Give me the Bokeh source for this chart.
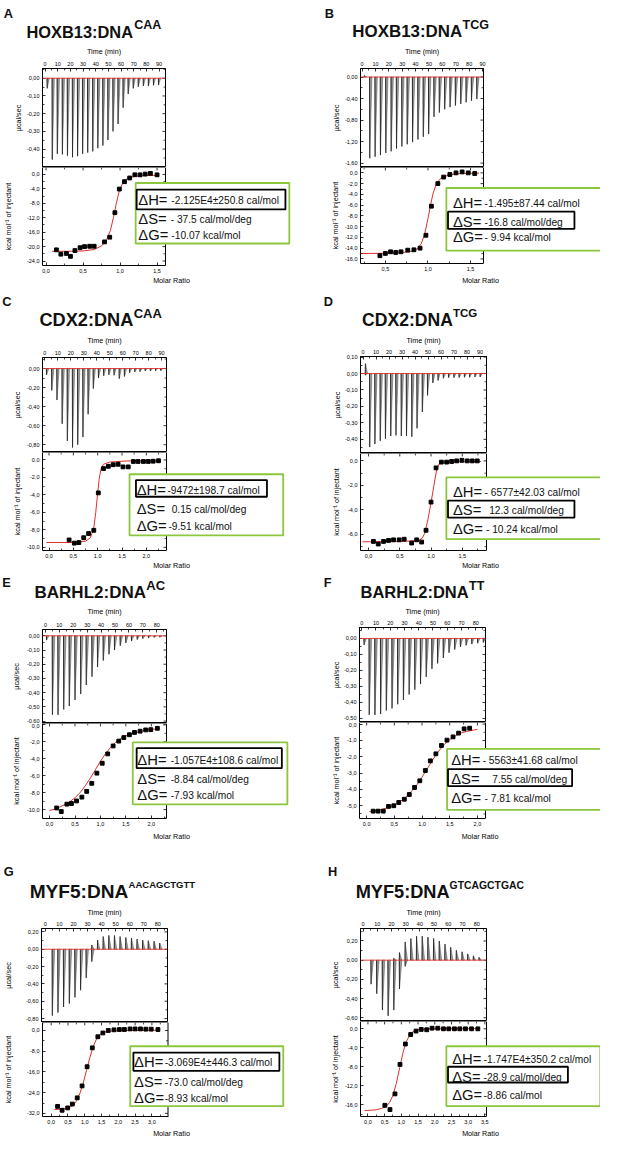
from bokeh.plotting import figure
from bokeh.models import (Range1d, LinearAxis, FixedTicker, Label, BoxAnnotation,
                          Span, ColumnDataSource)
from bokeh.layouts import column, row
from bokeh.embed import file_html
from bokeh.resources import INLINE

# ======================= DATA =======================
TIME_TICKS_90 = [0, 10, 20, 30, 40, 50, 60, 70, 80, 90]
TIME_TICKS_80 = [0, 10, 20, 30, 40, 50, 60, 70, 80]

# ---- A : HOXB13:DNA CAA
A_title, A_sup = "HOXB13:DNA", "CAA"
A_inj_time = [1.5, 5.5, 9.5, 13.5, 17.5, 21.5, 25.5, 29.5, 33.5, 37.5, 41.5, 45.5,
              49.5, 53.5, 57.5, 61.5, 65.5, 69.5, 73.5, 77.5, 81.5, 85.5, 89.5]
A_inj_down = [-0.057, -0.459, -0.427, -0.43, -0.437, -0.446, -0.44, -0.427, -0.42, -0.413,
              -0.395, -0.38, -0.349, -0.30, -0.258, -0.166, -0.089, -0.057, -0.048, -0.044,
              -0.044, -0.04, -0.038]
A_ratio = [0.14, 0.20, 0.275, 0.33, 0.39, 0.46, 0.52, 0.59, 0.65, 0.79, 0.86, 0.93, 0.99,
           1.06, 1.13, 1.20, 1.27, 1.34, 1.41, 1.50]
A_heat = [-20.9, -22.1, -21.9, -22.7, -21.1, -20.3, -20.0, -19.9, -19.9, -18.7, -17.4, -10.6,
          -4.05, -2.0, -0.98, -0.09, -0.1, 0.1, 0.3, -0.1]
A_fit_x = [0.08, 0.3, 0.5, 0.65, 0.75, 0.82, 0.87, 0.91, 0.95, 0.99, 1.04, 1.10, 1.20, 1.35, 1.52]
A_fit_y = [-21.3, -21.3, -21.2, -20.8, -19.8, -18.0, -15.5, -12.0, -8.0, -4.5, -2.2, -1.1, -0.5, -0.3, -0.25]
A_raw_yticks = [0, -0.1, -0.2, -0.3, -0.4]
A_int_xticks = [0, 0.5, 1.0, 1.5]
A_int_yticks = [0, -4, -8, -12, -16, -20, -24]
A_dH, A_dS, A_dG = "-2.125E4±250.8 cal/mol", "- 37.5 cal/mol/deg", "-10.07 kcal/mol"

# ---- B : HOXB13:DNA TCG
B_title, B_sup = "HOXB13:DNA", "TCG"
B_inj_time = [1.6, 5.6, 9.6, 13.6, 17.6, 21.6, 25.6, 29.6, 33.6, 37.6, 41.6, 45.6, 49.6,
              53.6, 57.6, 61.6, 65.6, 69.6, 73.6, 77.6, 81.6, 85.6]
B_inj_down = [0, -1.51, -1.48, -1.45, -1.41, -1.38, -1.33, -1.29, -1.25, -1.21, -1.16, -1.11,
              -1.06, -0.74, -0.66, -0.60, -0.56, -0.53, -0.50, -0.47, -0.44, -0.41]
B_inj_up = [0.03, 0, 0, 0, 0, 0, 0, 0, 0, 0, 0, 0, 0, 0, 0, 0, 0, 0, 0, 0, 0, 0]
B_ratio = [0.436, 0.50, 0.561, 0.622, 0.683, 0.763, 0.835, 0.907, 0.976, 1.04, 1.116, 1.184,
           1.257, 1.329, 1.401, 1.473, 1.549]
B_heat = [-15.4, -14.98, -14.67, -14.8, -14.67, -14.37, -14.3, -14.0, -11.6, -6.2, -1.99,
          -0.78, -0.3, 0.0, 0.18, 0.0, -0.12]
B_fit_x = [0.21, 0.5, 0.7, 0.8, 0.87, 0.92, 0.96, 1.0, 1.03, 1.06, 1.10, 1.15, 1.25, 1.40, 1.60]
B_fit_y = [-15.0, -14.95, -14.8, -14.6, -14.2, -13.2, -11.5, -8.5, -6.0, -3.8, -2.0, -1.0, -0.35, -0.1, -0.05]
B_raw_yticks = [0, -0.4, -0.8, -1.2, -1.6]
B_int_xticks = [0.5, 1.0, 1.5]
B_int_yticks = [0, -2, -4, -6, -8, -10, -12, -14, -16]
B_dH, B_dS, B_dG = "-1.495±87.44 cal/mol", "-16.8 cal/mol/deg", "- 9.94 kcal/mol"

# ---- C : CDX2:DNA CAA
C_title, C_sup = "CDX2:DNA", "CAA"
C_inj_time = [1.2, 5.2, 9.2, 13.2, 17.2, 21.2, 25.2, 29.2, 33.2, 37.2, 41.2, 45.2, 49.2,
              53.2, 57.2, 61.2, 65.2, 69.2, 73.2, 77.2, 81.2, 85.2, 89.2]
C_inj_down = [-0.066, -0.23, -0.33, -0.58, -0.76, -0.83, -0.80, -0.72, -0.48, -0.21, -0.10,
              -0.076, -0.066, -0.07, -0.106, -0.083, -0.043, -0.036, -0.033, -0.026, -0.026,
              -0.023, -0.023]
C_ratio = [0.413, 0.52, 0.613, 0.713, 0.813, 0.92, 1.013, 1.12, 1.22, 1.32, 1.42, 1.52, 1.627,
           1.733, 1.83, 1.94, 2.04, 2.14, 2.25]
C_heat = [-9.15, -9.52, -9.45, -8.9, -8.42, -8.05, -3.77, -0.99, -0.73, -0.55, -0.5, -0.8,
          -0.8, -0.18, -0.18, -0.18, -0.18, -0.15, -0.1]
C_fit_x = [-0.05, 0.5, 0.75, 0.85, 0.92, 0.96, 1.0, 1.03, 1.07, 1.12, 1.25, 1.6, 2.3]
C_fit_y = [-9.45, -9.44, -9.3, -8.9, -7.8, -6.0, -3.8, -2.2, -1.0, -0.5, -0.25, -0.12, -0.1]
C_raw_yticks = [0, -0.2, -0.4, -0.6, -0.8]
C_int_xticks = [0, 0.5, 1.0, 1.5, 2.0]
C_int_yticks = [0, -2, -4, -6, -8, -10]
C_dH, C_dS, C_dG = "-9472±198.7 cal/mol", "0.15 cal/mol/deg", "-9.51 kcal/mol"

# ---- D : CDX2:DNA TCG
D_title, D_sup = "CDX2:DNA", "TCG"
D_inj_time = [1.7, 5.0, 9.0, 13.1, 17.1, 21.2, 25.2, 29.3, 33.3, 37.4, 41.4, 45.5, 49.5,
              53.6, 57.6, 61.7, 65.7, 69.8, 73.8, 77.9, 81.9, 86.0, 90.0]
D_inj_down = [-0.01, -0.447, -0.428, -0.409, -0.396, -0.38, -0.376, -0.38, -0.38, -0.384,
              -0.333, -0.234, -0.133, -0.057, -0.042, -0.029, -0.025, -0.025, -0.025, -0.023,
              -0.023, -0.021, -0.021]
D_inj_up = [0.06, 0, 0, 0, 0, 0, 0, 0, 0, 0, 0, 0, 0, 0, 0, 0, 0, 0, 0, 0, 0, 0, 0]
D_ratio = [0.078, 0.155, 0.24, 0.32, 0.40, 0.49, 0.57, 0.69, 0.77, 0.85, 0.92, 1.0, 1.08,
           1.165, 1.25, 1.33, 1.41, 1.495, 1.58, 1.66, 1.74]
D_heat = [-6.57, -6.78, -6.57, -6.49, -6.44, -6.44, -6.39, -6.7, -6.44, -6.62, -5.66, -3.36,
          -0.57, -0.1, -0.1, -0.05, 0.0, 0.05, 0.0, 0.0, 0.0]
D_fit_x = [-0.1, 0.5, 0.8, 0.86, 0.9, 0.95, 1.0, 1.05, 1.09, 1.13, 1.2, 1.8]
D_fit_y = [-6.6, -6.58, -6.5, -6.3, -5.9, -4.8, -3.4, -1.9, -0.7, -0.25, -0.1, -0.05]
D_raw_yticks = [0.1, 0, -0.1, -0.2, -0.3, -0.4]
D_int_xticks = [0, 0.5, 1.0, 1.5]
D_int_yticks = [0, -2, -4, -6]
D_dH, D_dS, D_dG = "- 6577±42.03 cal/mol", "12.3 cal/mol/deg", "- 10.24 kcal/mol"

# ---- E : BARHL2:DNA AC
E_title, E_sup = "BARHL2:DNA", "AC"
E_inj_time = [0.7, 4.9, 8.9, 13.0, 17.0, 21.1, 25.2, 29.2, 33.3, 37.3, 41.4, 45.5, 49.5,
              53.6, 57.6, 61.7, 65.8, 69.8, 73.9, 77.9, 82.0]
E_inj_down = [-0.03, -0.556, -0.556, -0.518, -0.494, -0.452, -0.41, -0.346, -0.287, -0.22,
              -0.174, -0.13, -0.10, -0.07, -0.05, -0.037, -0.026, -0.02, -0.015, -0.011, -0.01]
E_ratio = [0.14, 0.23, 0.34, 0.43, 0.53, 0.635, 0.73, 0.83, 0.93, 1.035, 1.143, 1.25, 1.36,
           1.46, 1.57, 1.67, 1.78, 1.89, 1.99, 2.12]
E_heat = [-9.81, -10.23, -9.36, -9.28, -8.98, -8.53, -7.85, -6.9, -5.7, -4.53, -3.43, -2.49,
          -1.92, -1.5, -1.17, -0.9, -0.75, -0.6, -0.57, -0.41]
E_fit_x = [0.0, 0.1, 0.2, 0.3, 0.4, 0.5, 0.6, 0.7, 0.8, 0.9, 1.0, 1.1, 1.2, 1.3, 1.4, 1.5,
           1.6, 1.8, 2.0, 2.15]
E_fit_y = [-10.1, -9.95, -9.7, -9.4, -9.05, -8.6, -8.0, -7.2, -6.3, -5.3, -4.3, -3.4, -2.65,
           -2.05, -1.6, -1.3, -1.05, -0.75, -0.55, -0.45]
E_raw_yticks = [0, -0.1, -0.2, -0.3, -0.4, -0.5, -0.6]
E_int_xticks = [0, 0.5, 1.0, 1.5, 2.0]
E_int_yticks = [0, -2, -4, -6, -8, -10]
E_dH, E_dS, E_dG = "-1.057E4±108.6 cal/mol", "-8.84 cal/mol/deg", "-7.93 kcal/mol"

# ---- F : BARHL2:DNA TT
F_title, F_sup = "BARHL2:DNA", "TT"
F_inj_time = [1.5, 5.1, 9.1, 13.1, 17.1, 21.1, 25.1, 29.1, 33.1, 37.1, 41.1, 45.1, 49.1,
              53.1, 57.1, 61.1, 65.1, 69.1, 73.1, 77.1, 81.2, 85.2]
F_inj_down = [-0.04, -0.476, -0.478, -0.472, -0.45, -0.437, -0.411, -0.384, -0.35, -0.32,
              -0.285, -0.24, -0.19, -0.156, -0.122, -0.089, -0.069, -0.053, -0.043, -0.035,
              -0.03, -0.025]
F_ratio = [0.118, 0.206, 0.30, 0.395, 0.49, 0.58, 0.68, 0.77, 0.865, 0.96, 1.06, 1.15, 1.25,
           1.35, 1.45, 1.56, 1.66, 1.76, 1.86]
F_heat = [-5.33, -5.33, -5.33, -5.04, -5.0, -4.8, -4.6, -4.31, -3.88, -3.47, -2.84, -2.25,
          -1.82, -1.31, -0.98, -0.78, -0.55, -0.29, -0.25]
F_fit_x = [0.05, 0.2, 0.35, 0.5, 0.6, 0.7, 0.8, 0.9, 1.0, 1.1, 1.2, 1.3, 1.4, 1.5, 1.6, 1.7,
           1.8, 1.95, 2.0]
F_fit_y = [-5.35, -5.3, -5.15, -4.95, -4.75, -4.5, -4.15, -3.75, -3.25, -2.7, -2.15, -1.65,
           -1.25, -0.95, -0.72, -0.55, -0.45, -0.35, -0.32]
F_raw_yticks = [0, -0.1, -0.2, -0.3, -0.4, -0.5]
F_int_xticks = [0, 0.5, 1.0, 1.5, 2.0]
F_int_yticks = [0, -1, -2, -3, -4, -5]
F_dH, F_dS, F_dG = "- 5563±41.68 cal/mol", "7.55 cal/mol/deg", "- 7.81 kcal/mol"

# ---- G : MYF5:DNA AACAGCTGTT
G_title, G_sup = "MYF5:DNA", "AACAGCTGTT"
G_inj_time = [4.8, 8.8, 12.8, 16.9, 20.9, 24.9, 28.9, 32.9, 37.0, 41.0, 45.0, 49.0, 53.0,
              57.1, 61.1, 65.1, 69.1, 73.1, 77.2, 81.2]
G_inj_down = [-0.767, -0.731, -0.667, -0.627, -0.556, -0.473, -0.33, -0.143, 0, 0, 0, 0, 0,
              0, 0, 0, 0, 0, 0, 0]
G_inj_up = [0, 0, 0, 0, 0, 0, 0, 0.05, 0.107, 0.147, 0.16, 0.16, 0.147, 0.136, 0.129, 0.118,
            0.107, 0.10, 0.093, 0.072]
G_ratio = [0.19, 0.325, 0.49, 0.63, 0.775, 0.92, 1.07, 1.225, 1.39, 1.54, 1.70, 1.87, 2.03,
           2.18, 2.35, 2.50, 2.66, 2.82, 2.98, 3.18]
G_heat = [-29.3, -30.8, -29.9, -28.4, -26.0, -21.4, -14.0, -6.7, -2.43, -0.96, 0.0, 0.25,
          0.37, 0.37, 0.6, 0.6, 0.6, 0.5, 0.5, 0.37]
G_fit_x = [0.1, 0.3, 0.5, 0.65, 0.75, 0.85, 0.95, 1.05, 1.15, 1.25, 1.35, 1.45, 1.6, 1.8, 2.2, 3.2]
G_fit_y = [-30.5, -30.4, -30.0, -29.0, -27.3, -24.5, -20.5, -15.5, -10.5, -6.3, -3.3, -1.6,
           -0.6, -0.2, 0.0, 0.05]
G_raw_yticks = [0.2, 0, -0.2, -0.4, -0.6, -0.8]
G_int_xticks = [0, 0.5, 1.0, 1.5, 2.0, 2.5, 3.0]
G_int_yticks = [0, -8, -16, -24, -32]
G_dH, G_dS, G_dG = "-3.069E4±446.3 cal/mol", "-73.0 cal/mol/deg", "-8.93 kcal/mol"

# ---- H : MYF5:DNA GTCAGCTGAC
H_title, H_sup = "MYF5:DNA", "GTCAGCTGAC"
H_inj_time = [5.5, 9.5, 13.5, 17.5, 21.5, 25.5, 29.5, 33.5, 37.5, 41.5, 45.5, 49.5, 53.5,
              57.5, 61.5, 65.5, 69.5, 73.5, 77.5, 81.5]
H_inj_down = [-0.25, -0.35, -0.52, -0.58, -0.52, -0.30, -0.065, 0, 0, 0, 0, 0, 0, 0, 0, 0,
              0, 0, 0, 0]
H_inj_up = [0, 0, 0, 0, 0.02, 0.08, 0.19, 0.226, 0.25, 0.25, 0.24, 0.226, 0.20, 0.168, 0.135,
            0.103, 0.087, 0.065, 0.045, 0.03]
H_ratio = [0.507, 0.66, 0.81, 0.96, 1.12, 1.28, 1.44, 1.595, 1.76, 1.92, 2.09, 2.26, 2.42,
           2.59, 2.75, 2.92, 3.10, 3.29]
H_heat = [-16.1, -17.0, -13.7, -7.5, -3.2, -1.2, -0.47, -0.13, -0.2, 0.13, 0.13, 0.0, 0.0,
          0.0, 0.0, 0.0, 0.0, 0.0]
H_fit_x = [-0.1, 0.2, 0.4, 0.55, 0.65, 0.75, 0.85, 0.95, 1.05, 1.15, 1.25, 1.35, 1.5, 1.8, 3.3]
H_fit_y = [-17.2, -17.1, -16.8, -16.3, -15.5, -14.0, -11.5, -8.2, -5.0, -2.7, -1.3, -0.6,
           -0.2, 0.0, 0.05]
H_raw_yticks = [0.2, 0, -0.2, -0.4, -0.6]
H_int_xticks = [0, 0.5, 1.0, 1.5, 2.0, 2.5, 3.0, 3.5]
H_int_yticks = [0, -4, -8, -12, -16]
H_dH, H_dS, H_dG = "-1.747E4±350.2 cal/mol", "-28.9 cal/mol/deg", "-8.86 cal/mol"

RAW_BASELINE = 0.0

# ======================= STYLE / LAYOUT =======================
SX = 600 / 617
SY = 1140 / 1158
LEFT_W = round(308 * SX)
RIGHT_W = 600 - LEFT_W
FONT = "Liberation Sans"
RED = "#e0302a"
GREEN = "#8cc63f"
INK = "black"
TICK_FS = 5.5
LAB_FS = 7.2

# (header top, header bottom = raw top, int bottom) per row of panels, in reference pixels
ROWS = [(0, 44, 292), (292, 337, 581), (581, 613, 856), (856, 918, 1158)]

SPEC = [
    dict(key="A", col=0, row=0, L=43, R=170, T=68, M=170, B=273,
         raw_x=(-2.07, 95.13), raw_y=(-0.504, 0.055), int_x=(-0.048, 1.614), int_y=(-25.24, 1.93),
         tt=TIME_TICKS_90, ryt=A_raw_yticks, ixt=A_int_xticks, iyt=A_int_yticks,
         t=A_inj_time, down=A_inj_down, up=None, ratio=A_ratio, heat=A_heat, fx=A_fit_x, fy=A_fit_y,
         title=A_title, sup=A_sup, tpos=(26.7, 31.5, 137.5, 25.0), tfs=(16.4, 12.5), lpos=(3.3, 12.7),
         box=(139, 297, 186, 250), hl=(140, 293, 193, 214), symx=141.7, valx=(175.7, 175, 175.7),
         ly=(203, 224, 241), txt=(A_dH, A_dS, A_dG), rl=21, il=31, toff=17, boff=14),
    dict(key="B", col=1, row=0, L=369.7, R=496.3, T=68, M=169.5, B=268,
         raw_x=(-1.16, 90.72), raw_y=(-1.681, 0.158), int_x=(0.208, 1.652), int_y=(-16.85, 1.0),
         tt=TIME_TICKS_90, ryt=B_raw_yticks, ixt=B_int_xticks, iyt=B_int_yticks,
         t=B_inj_time, down=B_inj_down, up=B_inj_up, ratio=B_ratio, heat=B_heat, fx=B_fit_x, fy=B_fit_y,
         title=B_title, sup=B_sup, tpos=(361.3, 31.5, 474.7, 25.0), tfs=(16.9, 12.5), lpos=(333, 12.7),
         box=(458, 617, 190.7, 255), hl=(459.7, 589.7, 215, 232.7), symx=464.7, valx=(497.3, 497.3, 497.3),
         ly=(205.7, 225, 240.7), txt=(B_dH, B_dS, B_dG), rl=21.7, il=22.7, toff=17, boff=16),
    dict(key="C", col=0, row=1, L=43.3, R=170.7, T=358.3, M=459, B=561,
         raw_x=(-1.8, 93.75), raw_y=(-0.882, 0.116), int_x=(-0.134, 2.414), int_y=(-10.36, 0.846),
         tt=TIME_TICKS_90, ryt=C_raw_yticks, ixt=C_int_xticks, iyt=C_int_yticks,
         t=C_inj_time, down=C_inj_down, up=None, ratio=C_ratio, heat=C_heat, fx=C_fit_x, fy=C_fit_y,
         title=C_title, sup=C_sup, tpos=(40, 325, 137, 317.6), tfs=(18.2, 13), lpos=(1.7, 305.7),
         box=(132.7, 290.7, 481.7, 545), hl=(139.3, 274, 487.7, 505), symx=140, valx=(171.7, 176, 172.7),
         ly=(497.7, 517.7, 535), txt=(C_dH, C_dS, C_dG), rl=22, il=22.6, toff=17, boff=14),
    dict(key="D", col=1, row=1, L=369.7, R=499.7, T=356.7, M=460, B=561,
         raw_x=(-1.94, 95.0), raw_y=(-0.486, 0.1034), int_x=(-0.129, 1.888), int_y=(-7.31, 0.603),
         tt=TIME_TICKS_90, ryt=D_raw_yticks, ixt=D_int_xticks, iyt=D_int_yticks,
         t=D_inj_time, down=D_inj_down, up=D_inj_up, ratio=D_ratio, heat=D_heat, fx=D_fit_x, fy=D_fit_y,
         title=D_title, sup=D_sup, tpos=(371.3, 325, 464.7, 317.6), tfs=(17.6, 11.5), lpos=(332, 305.7),
         box=(458, 617, 485, 549), hl=(459.7, 589.7, 509, 526.7), symx=464.7, valx=(497.3, 502, 498.7),
         ly=(500, 518.3, 538.3), txt=(D_dH, D_dS, D_dG), rl=20.7, il=20.7, toff=16, boff=13.5),
    dict(key="E", col=0, row=2, L=42.7, R=170.7, T=634.3, M=734.3, B=833.3,
         raw_x=(-2.09, 86.96), raw_y=(-0.617, 0.0443), int_x=(-0.139, 2.299), int_y=(-11.05, 0.158),
         tt=TIME_TICKS_80, ryt=E_raw_yticks, ixt=E_int_xticks, iyt=E_int_yticks,
         t=E_inj_time, down=E_inj_down, up=None, ratio=E_ratio, heat=E_heat, fx=E_fit_x, fy=E_fit_y,
         title=E_title, sup=E_sup, tpos=(35, 601, 150, 594.5), tfs=(17.0, 13), lpos=(1.7, 591),
         box=(136, 295, 754, 818.3), hl=(140, 289.3, 760, 780.7), symx=140.7, valx=(175, 175, 175),
         ly=(771.7, 791.7, 808.3), txt=(E_dH, E_dS, E_dG), rl=23, il=23, toff=18, boff=16.5),
    dict(key="F", col=1, row=2, L=369, R=498, T=632.7, M=733.3, B=833.3,
         raw_x=(-1.58, 86.85), raw_y=(-0.525, 0.0685), int_x=(-0.129, 2.146), int_y=(-5.78, 0.1),
         tt=TIME_TICKS_80, ryt=F_raw_yticks, ixt=F_int_xticks, iyt=F_int_yticks,
         t=F_inj_time, down=F_inj_down, up=None, ratio=F_ratio, heat=F_heat, fx=F_fit_x, fy=F_fit_y,
         title=F_title, sup=F_sup, tpos=(369.7, 601, 481.3, 594.5), tfs=(16.5, 12.5), lpos=(332, 591),
         box=(458.7, 617.3, 760.7, 824), hl=(459.7, 587.3, 781.7, 799.3), symx=463, valx=(495.3, 505.3, 497.3),
         ly=(771.7, 791, 810.7), txt=(F_dH, F_dS, F_dG), rl=20, il=20, toff=16, boff=16.5),
    dict(key="G", col=0, row=3, L=41.7, R=171.7, T=937.3, M=1038.3, B=1137.3,
         raw_x=(-2.76, 86.9), raw_y=(-0.846, 0.2398), int_x=(-0.259, 3.48), int_y=(-33.21, 3.08),
         tt=TIME_TICKS_80, ryt=G_raw_yticks, ixt=G_int_xticks, iyt=G_int_yticks,
         t=G_inj_time, down=G_inj_down, up=G_inj_up, ratio=G_ratio, heat=G_heat, fx=G_fit_x, fy=G_fit_y,
         title=G_title, sup=G_sup, tpos=(30, 905, 131.7, 897.6), tfs=(19.1, 9.5), lpos=(3.3, 885),
         box=(132.7, 290.7, 1063.3, 1126.7), hl=(136, 286.7, 1070, 1089.3), symx=136.7, valx=(168.3, 168.3, 168.3),
         ly=(1079, 1100.7, 1117.3), txt=(G_dH, G_dS, G_dG), rl=30.7, il=32, toff=16, boff=16),
    dict(key="H", col=1, row=3, L=369.7, R=499, T=937.3, M=1037.3, B=1137.3,
         raw_x=(-1.78, 86.85), raw_y=(-0.639, 0.33), int_x=(-0.222, 3.549), int_y=(-18.46, 1.54),
         tt=TIME_TICKS_80, ryt=H_raw_yticks, ixt=H_int_xticks, iyt=H_int_yticks,
         t=H_inj_time, down=H_inj_down, up=H_inj_up, ratio=H_ratio, heat=H_heat, fx=H_fit_x, fy=H_fit_y,
         title=H_title, sup=H_sup, tpos=(364.7, 906, 461.3, 898.5), tfs=(18.2, 10.4), lpos=(336.3, 885),
         box=(458, 616.3, 1063.3, 1126.7), hl=(459.7, 583, 1085, 1101.7), symx=464, valx=(496.3, 496.3, 496.3),
         ly=(1076, 1095, 1114), txt=(H_dH, H_dS, H_dG), rl=22, il=22, toff=16, boff=16),
]

CW = {"-": 0.333, ",": 0.278, ".": 0.278}


def text_w(s, size):
    return sum(CW.get(c, 0.556) for c in s) * size


def fmt(v, dec):
    return f"{v:.{dec}f}".replace(".", ",")


def minor_ticks(ticks, lo, hi):
    t = sorted(ticks)
    step = t[1] - t[0]
    c = [t[0] - step / 2] + [(a + b) / 2 for a, b in zip(t[:-1], t[1:])] + [t[-1] + step / 2]
    return [v for v in c if lo <= v <= hi]


def make_axis(ticks, dec, rng, label, lstand, bounds=None):
    t = sorted(ticks)
    ax = LinearAxis(ticker=FixedTicker(ticks=t, minor_ticks=minor_ticks(t, min(rng), max(rng))))
    if bounds is not None:
        ax.bounds = bounds
    ax.major_label_overrides = {v: fmt(v, dec) for v in t}
    ax.axis_line_color = INK
    ax.axis_line_width = 1
    ax.major_tick_in = 3
    ax.major_tick_out = 0
    ax.minor_tick_in = 2
    ax.minor_tick_out = 0
    ax.major_tick_line_color = INK
    ax.minor_tick_line_color = INK
    ax.major_tick_line_width = 0.8
    ax.minor_tick_line_width = 0.7
    ax.major_label_text_font = FONT
    ax.major_label_text_font_size = f"{TICK_FS}px"
    ax.major_label_text_color = INK
    ax.major_label_standoff = 3
    ax.axis_label = label
    ax.axis_label_text_font = FONT
    ax.axis_label_text_font_size = f"{LAB_FS}px"
    ax.axis_label_text_font_style = "normal"
    ax.axis_label_text_color = INK
    ax.axis_label_standoff = max(0, int(round(lstand)))
    return ax


def col_geom(col):
    return (0, LEFT_W) if col == 0 else (308, RIGHT_W)


def base_fig(**kw):
    p = figure(x_axis_type=None, y_axis_type=None, toolbar_location=None, title=None,
               output_backend="svg", min_border=0, **kw)
    p.frame_align = False
    p.background_fill_color = "white"
    p.border_fill_color = "white"
    return p


def make_fig(col, top_ref, bot_ref, L, R, T, B, xr, yr, extend_right=False):
    x0c, W = col_geom(col)
    top_px = round(top_ref * SY)
    bot_px = round(bot_ref * SY)
    H = bot_px - top_px
    fl = round((L - x0c) * SX)
    fr = round((R - x0c) * SX)
    ft = round(T * SY) - top_px
    fb = round(B * SY) - top_px
    xr_used = xr
    fr_used = fr
    if extend_right:
        ext = xr[0] + (W - fl) / (fr - fl) * (xr[1] - xr[0])
        xr_used = (xr[0], ext)
        fr_used = W
    p = base_fig(width=W, height=H, x_range=Range1d(*xr_used), y_range=Range1d(*yr),
                 min_border_left=fl, min_border_right=W - fr_used,
                 min_border_top=ft, min_border_bottom=H - fb)
    p.outline_line_color = None if extend_right else INK
    p.outline_line_width = 1
    return dict(p=p, x0=x0c, top_px=top_px, fl=fl, ft=ft, fw=fr_used - fl, fh=fb - ft,
                xr=xr_used, yr=yr, pxu_x=(fr - fl) / (xr[1] - xr[0]),
                pxu_y=(fb - ft) / (yr[1] - yr[0]))


def make_header(col, top_ref, bot_ref):
    x0c, W = col_geom(col)
    top_px = round(top_ref * SY)
    H = round(bot_ref * SY) - top_px
    p = base_fig(width=W, height=H, x_range=Range1d(0, W), y_range=Range1d(H, 0))
    p.outline_line_color = None
    return dict(p=p, x0=x0c, top_px=top_px)


def to_data(info, x_ref, y_ref):
    cx = (x_ref - info["x0"]) * SX
    cy = y_ref * SY - info["top_px"]
    x0, x1 = info["xr"]
    y0, y1 = info["yr"]
    xd = x0 + (cx - info["fl"]) / info["fw"] * (x1 - x0)
    yd = y1 - (cy - info["ft"]) / info["fh"] * (y1 - y0)
    return xd, yd


def label(p, x, y, text, size, bold=False, baseline="alphabetic"):
    p.add_layout(Label(x=x, y=y, text=text, text_font=FONT, text_font_size=f"{size}px",
                       text_font_style="bold" if bold else "normal", text_line_height=1.0,
                       text_baseline=baseline, text_align="left", text_color="#111111"))


def mirror_y(p, ticks, minor, xpos, px_per_x):
    d1, d2 = 3 / px_per_x, 2 / px_per_x
    p.segment(x0=[xpos - d1] * len(ticks), y0=ticks, x1=[xpos] * len(ticks), y1=ticks,
              line_color=INK, line_width=0.8)
    p.segment(x0=[xpos - d2] * len(minor), y0=minor, x1=[xpos] * len(minor), y1=minor,
              line_color=INK, line_width=0.7)


def mirror_x(p, ticks, minor, ypos, px_per_y):
    d1, d2 = 3 / px_per_y, 2 / px_per_y
    p.segment(x0=ticks, y0=[ypos] * len(ticks), x1=ticks, y1=[ypos - d1] * len(ticks),
              line_color=INK, line_width=0.8)
    p.segment(x0=minor, y0=[ypos] * len(minor), x1=minor, y1=[ypos - d2] * len(minor),
              line_color=INK, line_width=0.7)


columns = {0: [], 1: []}

for s in SPEC:
    col = s["col"]
    h_top, h_bot, i_bot = ROWS[s["row"]]

    # ---------- header (letter + title) ----------
    hd = make_header(col, h_top, h_bot)
    hp = hd["p"]
    for (x, y, text, size) in [(s["lpos"][0], s["lpos"][1], s["key"], 12.8),
                               (s["tpos"][0], s["tpos"][1], s["title"], s["tfs"][0]),
                               (s["tpos"][2], s["tpos"][3], s["sup"], s["tfs"][1])]:
        label(hp, (x - hd["x0"]) * SX, y * SY - hd["top_px"], text, size, bold=True)

    # ---------- raw thermogram ----------
    raw = make_fig(col, h_bot, s["M"], s["L"], s["R"], s["T"], s["M"], s["raw_x"], s["raw_y"])
    p = raw["p"]
    xs, ys, ex, ey = [], [], [], []
    up = s["up"] if s["up"] is not None else [0] * len(s["t"])
    for t, dn, u in zip(s["t"], s["down"], up):
        for pk in (dn, u):
            if pk != 0:
                xs.append([t, t + 0.15, t + 1.8])
                ys.append([RAW_BASELINE, RAW_BASELINE + pk, RAW_BASELINE])
                ex.append([t, t + 0.15])
                ey.append([RAW_BASELINE, RAW_BASELINE + pk])
    p.patches("xs", "ys", source=ColumnDataSource(dict(xs=xs, ys=ys)),
              fill_color="#9a9a9a", line_color="#555555", line_width=0.5)
    p.multi_line("xs", "ys", source=ColumnDataSource(dict(xs=ex, ys=ey)),
                 line_color="#222222", line_width=0.9)
    p.add_layout(Span(location=RAW_BASELINE, dimension="width", line_color=RED, line_width=0.9))

    mw = max(text_w(fmt(v, 2), TICK_FS) for v in s["ryt"])
    p.add_layout(make_axis(s["tt"], 0, s["raw_x"], "Time (min)",
                           s["toff"] * SY - 3 - TICK_FS * 1.15 - LAB_FS * 0.57), "above")
    p.add_layout(make_axis(s["ryt"], 2, s["raw_y"], "µcal/sec",
                           s["rl"] * SX - 3 - mw - LAB_FS * 0.57), "left")
    ry = sorted(s["ryt"])
    mirror_y(p, ry, minor_ticks(ry, *s["raw_y"]), s["raw_x"][1], raw["pxu_x"])

    # ---------- integrated heats ----------
    itg = make_fig(col, s["M"], i_bot, s["L"], s["R"], s["M"], s["B"], s["int_x"], s["int_y"],
                   extend_right=True)
    q = itg["p"]
    xe = s["int_x"][1]
    ytop = s["int_y"][1]
    q.segment(x0=[xe], y0=[s["int_y"][0]], x1=[xe], y1=[ytop], line_color=INK, line_width=1)
    q.segment(x0=[s["int_x"][0]], y0=[ytop], x1=[xe], y1=[ytop], line_color=INK, line_width=1)
    iy = sorted(s["iyt"])
    ix = sorted(s["ixt"])
    mirror_y(q, iy, minor_ticks(iy, *s["int_y"]), xe, itg["pxu_x"])
    mirror_x(q, ix, minor_ticks(ix, *s["int_x"]), ytop, itg["pxu_y"])
    q.line(s["fx"], s["fy"], line_color=RED, line_width=1.0)
    q.scatter(s["ratio"], s["heat"], marker="square", size=3.8, fill_color="black", line_color="black")
    mw2 = max(text_w(fmt(v, 1), TICK_FS) for v in s["iyt"])
    q.add_layout(make_axis(s["ixt"], 1, s["int_x"], "Molar Ratio",
                           s["boff"] * SY - 3 - TICK_FS * 1.15 - LAB_FS * 0.57,
                           bounds=(s["int_x"][0], xe)), "below")
    q.add_layout(make_axis(s["iyt"], 1, s["int_y"], "kcal mol⁻¹ of injectant",
                           s["il"] * SX - 3 - mw2 - LAB_FS * 0.57), "left")

    # text box with thermodynamic values
    bl, bt = to_data(itg, s["box"][0], s["box"][2])
    br, bb = to_data(itg, s["box"][1], s["box"][3])
    q.add_layout(BoxAnnotation(left=bl, right=br, top=bt, bottom=bb, fill_color="white",
                               fill_alpha=1.0, line_color=GREEN, line_width=1.8, line_alpha=1.0))
    hl_, ht_ = to_data(itg, s["hl"][0], s["hl"][2])
    hr_, hb_ = to_data(itg, s["hl"][1], s["hl"][3])
    q.add_layout(BoxAnnotation(left=hl_, right=hr_, top=ht_, bottom=hb_, fill_alpha=0.0,
                               line_color="black", line_width=1.8, line_alpha=1.0))
    for i, sym in enumerate(["ΔH=", "ΔS=", "ΔG="]):
        x1d, y1d = to_data(itg, s["symx"], s["ly"][i] + 0.5)
        label(q, x1d, y1d, sym, 14.8, baseline="middle")
        x2d, y2d = to_data(itg, s["valx"][i], s["ly"][i] + 1.0)
        label(q, x2d, y2d, s["txt"][i], 10.2, baseline="middle")

    columns[col].extend([hd, raw, itg])

layout = row(column(*[i["p"] for i in columns[0]], spacing=0),
             column(*[i["p"] for i in columns[1]], spacing=0), spacing=0)

open("out.html", "w").write(file_html(layout, INLINE, title="ITC"))
